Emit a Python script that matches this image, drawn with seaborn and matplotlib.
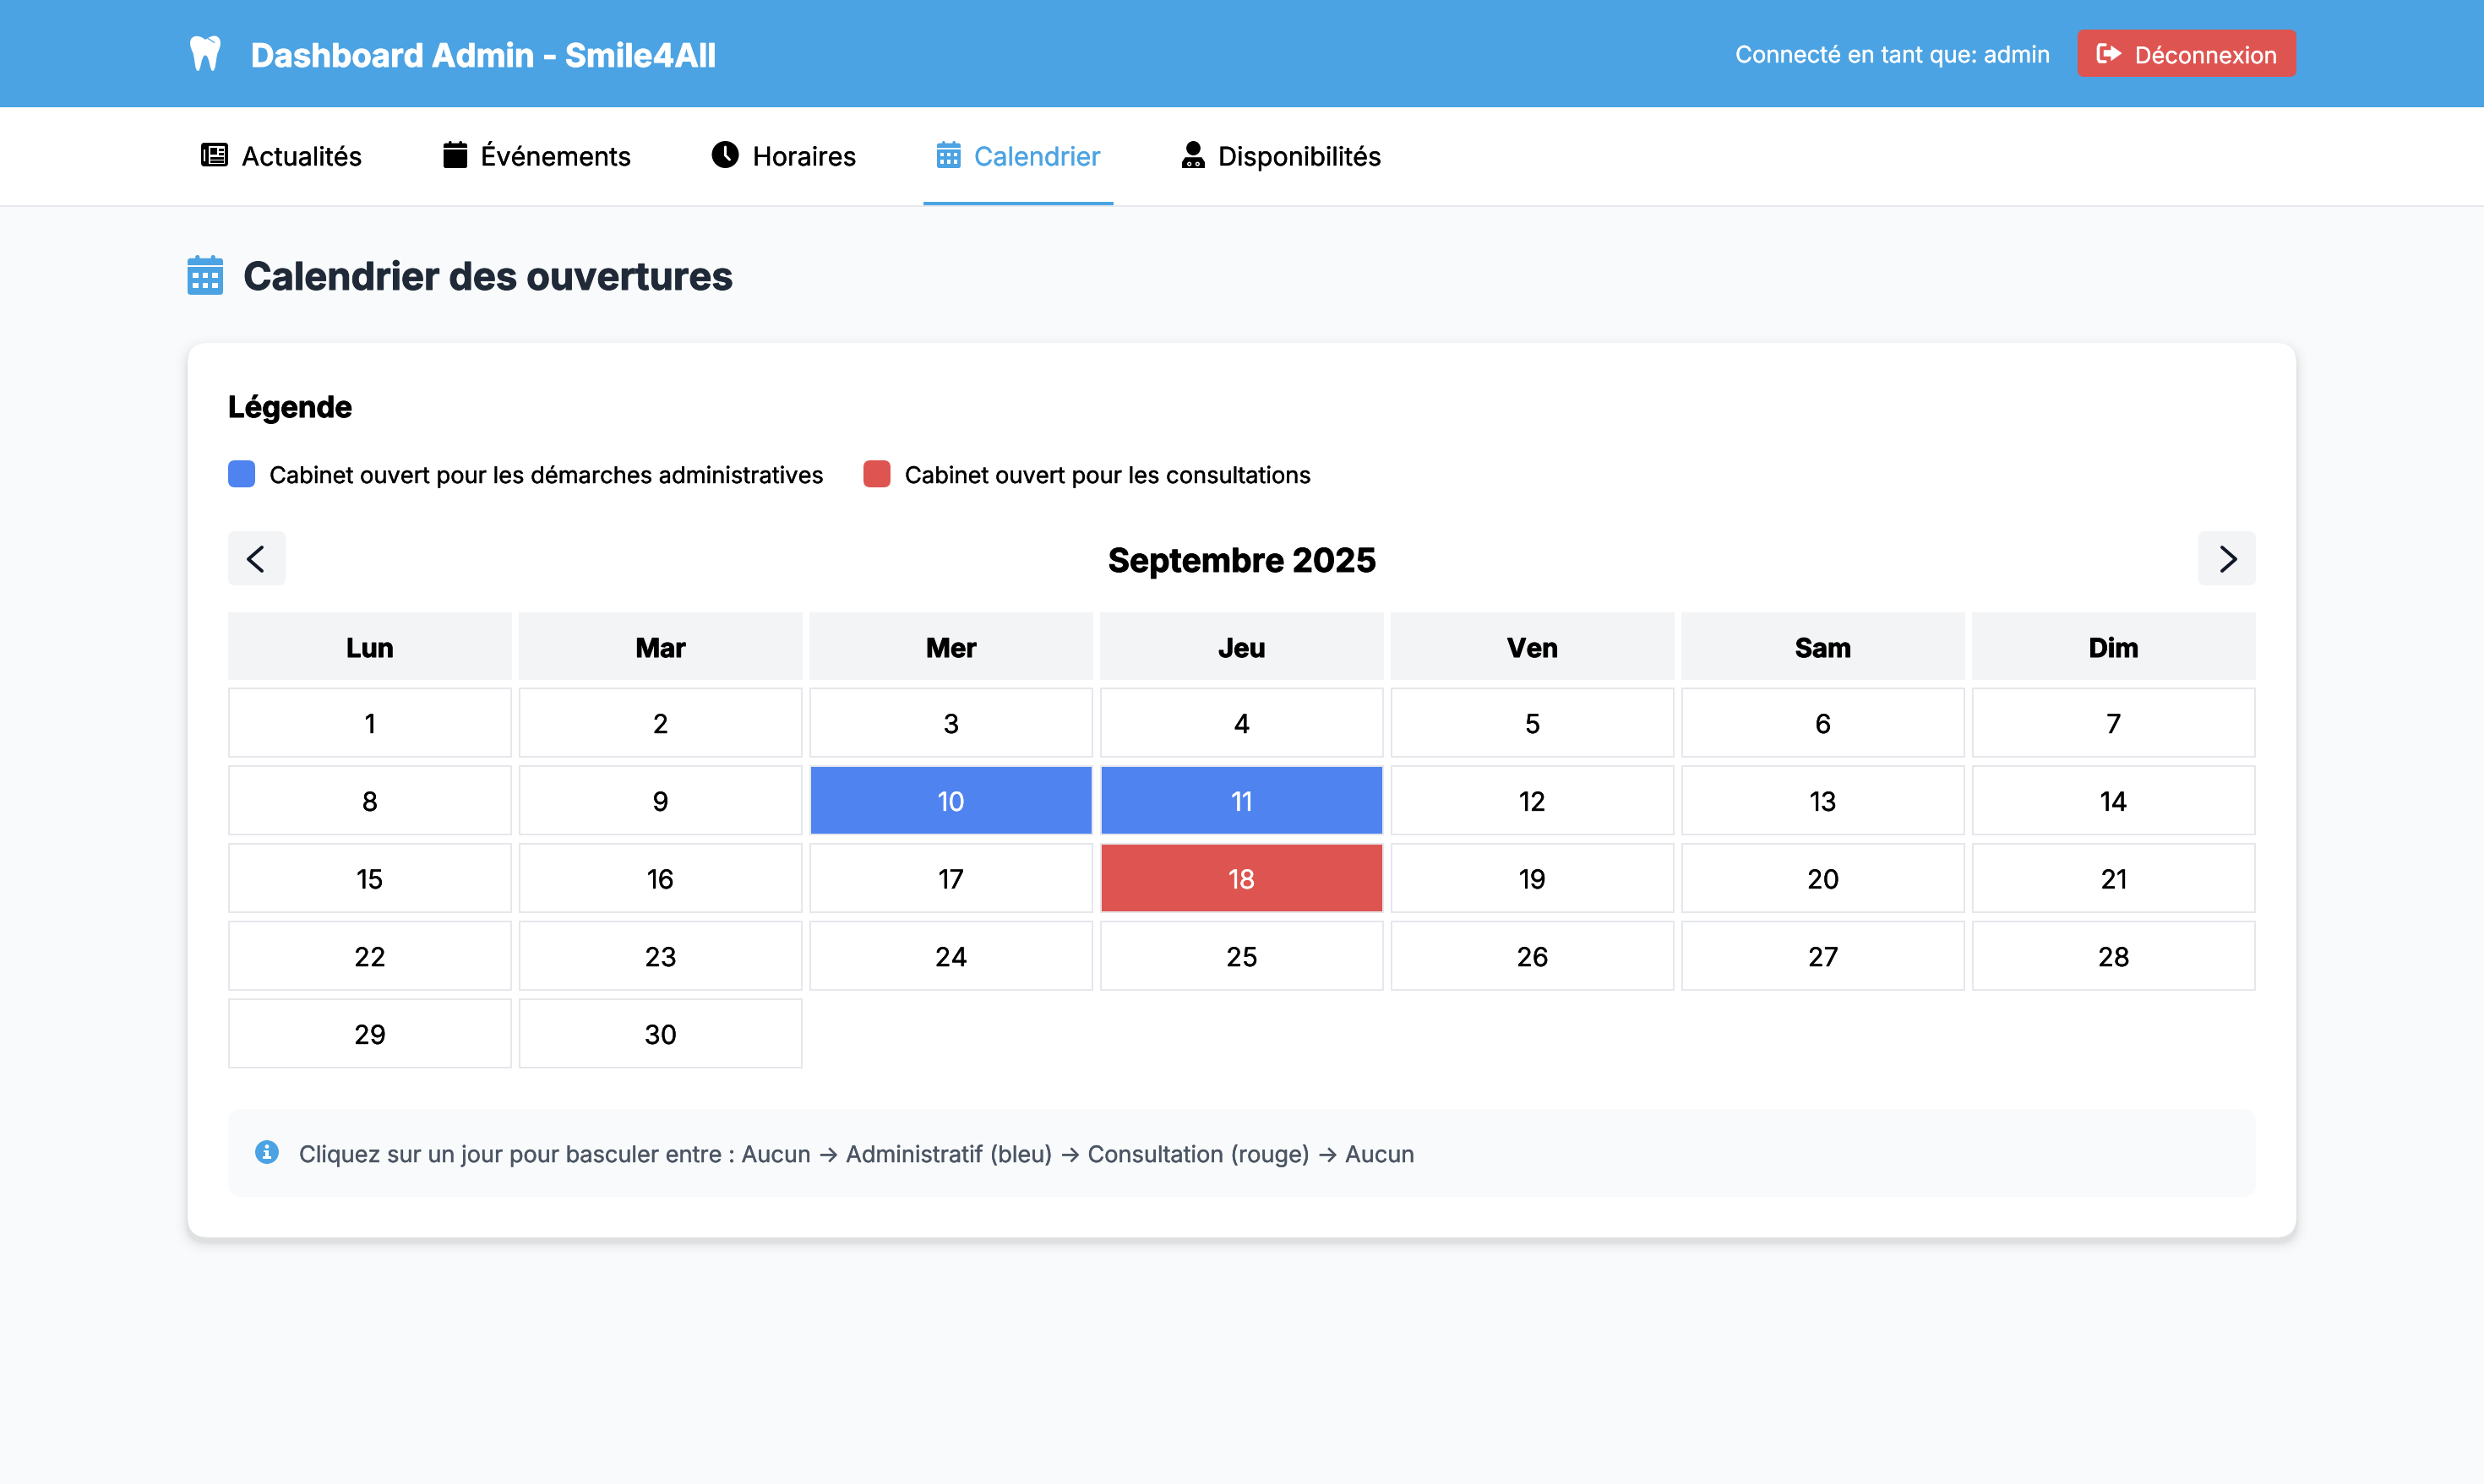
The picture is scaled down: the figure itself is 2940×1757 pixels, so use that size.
import numpy as np
import matplotlib
matplotlib.use("Agg")
import matplotlib.pyplot as plt
import matplotlib.patheffects as pe
from matplotlib.colors import ListedColormap
from matplotlib.patches import Circle, Ellipse, FancyBboxPatch, PathPatch, Polygon, Rectangle
from matplotlib.path import Path
import seaborn as sns

W, H = 2940, 1758

week_days = ["Lun", "Mar", "Mer", "Jeu", "Ven", "Sam", "Dim"]
day_rows = [
    ["1", "2", "3", "4", "5", "6", "7"],
    ["8", "9", "10", "11", "12", "13", "14"],
    ["15", "16", "17", "18", "19", "20", "21"],
    ["22", "23", "24", "25", "26", "27", "28"],
    ["29", "30", "", "", "", "", ""],
]
# 0 = closed, 1 = administrative, 2 = consultations
status_rows = [
    [0, 0, 0, 0, 0, 0, 0],
    [0, 0, 1, 1, 0, 0, 0],
    [0, 0, 0, 2, 0, 0, 0],
    [0, 0, 0, 0, 0, 0, 0],
    [0, 0, 0, 0, 0, 0, 0],
]
nav_labels = ["Actualités", "Événements", "Horaires", "Calendrier", "Disponibilités"]
legend_labels = [
    "Cabinet ouvert pour les démarches administratives",
    "Cabinet ouvert pour les consultations",
]

BLUE = "#4ba3e3"
ADMIN = "#4f83ef"
RED = "#de5450"
LINE = "#e5e7eb"
PAGE = "#f9fafb"
GREY = "#f3f4f6"
DARK = "#1f2937"

sns.set_theme(style="white")
plt.rcParams["font.family"] = ["Inter", "DejaVu Sans"]


def fs(px):
    return px * 72 / 100


def thicken(t, color, px):
    # the browser text in the reference is a little heavier than matplotlib's
    t.set_path_effects([pe.withStroke(linewidth=fs(px), foreground=color)])


def axes_px(fig, x0, y0, x1, y1):
    ax = fig.add_axes([x0 / W, 1 - y1 / H, (x1 - x0) / W, (y1 - y0) / H])
    ax.set_facecolor("none")
    return ax


def round_box(ax, x, y, w, h, r, color, **kw):
    ax.add_patch(
        FancyBboxPatch(
            (x + r, y + r), w - 2 * r, h - 2 * r,
            boxstyle=f"round,pad={r},rounding_size={r}",
            fc=color, ec="none", lw=0, **kw,
        )
    )


def label(ax, x, y, s, px, color="black", weight="normal", **kw):
    # matplotlib lands the baseline about a pixel high
    t = ax.text(x, y + 1, s, fontsize=fs(px), color=color, fontweight=weight,
                va="baseline", ha=kw.pop("ha", "left"), **kw)
    thicken(t, color, 1.0 if weight == "bold" else 0.35)
    return t


def tooth_icon(ax, x, y, w, h, color):
    pts = [
        (.5, .12), (.35, .0), (.1, -.03), (.02, .12),
        (-.04, .27), (.05, .4), (.1, .5),
        (.15, .65), (.15, 1), (.26, 1),
        (.36, 1), (.36, .56), (.5, .56),
        (.64, .56), (.64, 1), (.74, 1),
        (.85, 1), (.85, .65), (.9, .5),
        (.95, .4), (1.04, .27), (.98, .12),
        (.9, -.03), (.72, -.02), (.5, .12),
    ]
    codes = [Path.MOVETO] + [Path.CURVE4] * (len(pts) - 1)
    verts = [(x + px * w, y + py * h) for px, py in pts]
    ax.add_patch(PathPatch(Path(verts, codes), fc=color, ec="none", lw=0))
    ax.plot([x + .58 * w, x + .8 * w], [y + .08 * h, y + .2 * h], color=BLUE, lw=0.9)


def newspaper_icon(ax, x, y, w, h):
    round_box(ax, x, y, w, h, 4, "black")
    ax.add_patch(Rectangle((x + 9, y + 3.5), w - 13, h - 7, fc="white", ec="none"))
    ax.add_patch(Rectangle((x + 3.5, y + 8), 2, h - 14, fc="white", ec="none"))
    ax.add_patch(Rectangle((x + 11.5, y + 6), 8, 8, fc="black", ec="none"))
    ax.add_patch(Rectangle((x + 21, y + 6.5), 6, 3, fc="black", ec="none"))
    ax.add_patch(Rectangle((x + 21, y + 11.5), 6, 3, fc="black", ec="none"))
    ax.add_patch(Rectangle((x + 11.5, y + 16.5), 16, 3, fc="black", ec="none"))
    ax.add_patch(Rectangle((x + 11.5, y + 21), 16, 3, fc="black", ec="none"))


def calendar_icon(ax, x, y, w, h, color, dots=True):
    peg = w * 0.12
    for px in (x + w * 0.22, x + w * 0.66):
        round_box(ax, px, y, peg, h * 0.2, peg / 2.2, color)
    round_box(ax, x, y + h * 0.08, w, h * 0.92, h * 0.08, color)
    bar = h * 0.26
    ax.add_patch(Rectangle((x, y + bar), w, max(1.5, h * 0.04), fc=PAGE if dots else "white", ec="none"))
    if dots:
        for row in range(2):
            for col in range(3):
                ax.add_patch(Rectangle(
                    (x + w * (0.14 + col * 0.28), y + h * (0.44 + row * 0.26)),
                    w * 0.16, h * 0.13, fc="white", ec="none",
                ))


def clock_icon(ax, cx, cy, r):
    ax.add_patch(Circle((cx, cy), r, fc="black", ec="none"))
    ax.plot([cx, cx, cx + 5], [cy - 9, cy + 1, cy + 6], color="white", lw=fs(3),
            solid_capstyle="round", solid_joinstyle="round")


def doctor_icon(ax, x, y, w, h):
    ax.add_patch(Ellipse((x + w / 2, y + h * 0.265), w * 0.62, h * 0.53, fc="black", ec="none"))
    verts = [(x, y + h), (x, y + h * 0.78), (x + w * 0.14, y + h * 0.6), (x + w * 0.86, y + h * 0.6),
             (x + w, y + h * 0.78), (x + w, y + h)]
    ax.add_patch(Polygon(verts, closed=True, fc="black", ec="none"))
    for cx in (x + w * 0.32, x + w * 0.68):
        ax.add_patch(Circle((cx, y + h * 0.85), 2.6, fc="white", ec="none"))
        ax.add_patch(Circle((cx, y + h * 0.85), 1.1, fc="black", ec="none"))


def logout_icon(ax, x, y, w, h, color):
    ax.plot([x + w * 0.34, x + w * 0.1, x + w * 0.05, x + w * 0.05, x + w * 0.1, x + w * 0.34],
            [y + 2, y + 2, y + 5, y + h - 5, y + h - 2, y + h - 2],
            color=color, lw=fs(3.6), solid_capstyle="round", solid_joinstyle="round")
    arrow = [(x + w * 0.28, y + h * 0.36), (x + w * 0.58, y + h * 0.36), (x + w * 0.58, y + h * 0.14),
             (x + w, y + h * 0.5), (x + w * 0.58, y + h * 0.86), (x + w * 0.58, y + h * 0.64),
             (x + w * 0.28, y + h * 0.64)]
    ax.add_patch(Polygon(arrow, closed=True, fc=color, ec=color, lw=0.5, joinstyle="round"))


def info_icon(ax, cx, cy, r):
    ax.add_patch(Circle((cx, cy), r, fc=BLUE, ec="none"))
    ax.add_patch(Circle((cx, cy - 6.5), 2.4, fc="white", ec="none"))
    ax.add_patch(Rectangle((cx - 2, cy - 2), 4.2, 9, fc="white", ec="none"))
    ax.add_patch(Rectangle((cx - 4, cy - 2), 3, 2.4, fc="white", ec="none"))
    ax.add_patch(Rectangle((cx - 4.5, cy + 5), 9.5, 2.6, fc="white", ec="none"))


def chevron(ax, x0, x1, y0, y1):
    ax.plot([x1, x0, x1], [y0, (y0 + y1) / 2, y1], color="#111827", lw=fs(4),
            solid_capstyle="round", solid_joinstyle="round")


fig = plt.figure(figsize=(W / 100, H / 100), dpi=100, facecolor=PAGE)

# page chrome in pixel coordinates
ui = fig.add_axes([0, 0, 1, 1])
ui.set_xlim(0, W)
ui.set_ylim(H, 0)
ui.axis("off")

ui.add_patch(Rectangle((0, 0), W, 128, fc=BLUE, ec="none"))
ui.add_patch(Rectangle((0, 128), W, 116, fc="white", ec="none"))
ui.add_patch(Rectangle((0, 244), W, 2, fc=LINE, ec="none"))
ui.add_patch(Rectangle((1093, 240), 225, 4, fc=BLUE, ec="none"))

tooth_icon(ui, 225, 43, 36, 42, "white")
label(ui, 297, 79, "Dashboard Admin - Smile4All", 38.3, "white", "bold")
label(ui, 2054, 74, "Connecté en tant que: admin", 27.35, "white")
round_box(ui, 2459, 36, 259, 56, 8, RED)
logout_icon(ui, 2482, 52, 29, 24, "white")
label(ui, 2527, 75, "Déconnexion", 27.1, "white")

newspaper_icon(ui, 238, 170, 32, 28)
calendar_icon(ui, 525, 168, 28, 32, "black", dots=False)
clock_icon(ui, 858.5, 184, 16)
calendar_icon(ui, 1109, 168, 28, 32, BLUE)
doctor_icon(ui, 1399, 168, 27, 32)
nav_x = [286, 569, 891, 1153, 1442]
nav_colors = ["black", "black", "black", BLUE, "black"]
for nx, name, col in zip(nav_x, nav_labels, nav_colors):
    label(ui, nx, 196, name, 30.6, col)

calendar_icon(ui, 222, 303, 42, 47, BLUE)
label(ui, 288, 343, "Calendrier des ouvertures", 45.4, DARK, "bold")

# card with a soft shadow under it
for grow, alpha in [(14, 0.006), (10, 0.01), (7, 0.014), (4.5, 0.018), (2.5, 0.022), (1, 0.022)]:
    round_box(ui, 222 - grow, 407 - grow + 6, 2496 + 2 * grow, 1059 + 2 * grow, 24 + grow, "black", alpha=alpha)
round_box(ui, 222, 407, 2496, 1059, 24, "white")

label(ui, 270, 494, "Légende", 34.7, "black", "bold")
round_box(ui, 270, 546, 32, 32, 8, ADMIN)
label(ui, 319, 572, legend_labels[0], 27.25, "black")
round_box(ui, 1022, 546, 32, 32, 8, RED)
label(ui, 1071, 572, legend_labels[1], 27.25, "black")

round_box(ui, 270, 630, 68, 64, 8, GREY)
round_box(ui, 2602, 630, 68, 64, 8, GREY)
chevron(ui, 294, 310, 649, 677)
chevron(ui, 2646, 2630, 649, 677)
label(ui, 1470, 677, "Septembre 2025", 38.75, "black", "bold", ha="center")

round_box(ui, 270, 1314, 2400, 104, 16, PAGE)
info_icon(ui, 316, 1365, 14)
label(ui, 354, 1376, "Cliquez sur un jour pour basculer entre : Aucun → Administratif (bleu) → Consultation (rouge) → Aucun",
      27.15, "#4b5563")

# weekday header row
head_ax = axes_px(fig, 266, 722, 2674, 810)
sns.heatmap(
    np.zeros((1, 7)), ax=head_ax, cmap=ListedColormap([GREY]), cbar=False,
    annot=np.array([week_days]), fmt="", linewidths=fs(8), linecolor="white",
    xticklabels=False, yticklabels=False,
    annot_kws={"fontsize": fs(31), "fontweight": "bold", "color": "black"},
)
for t in head_ax.texts:
    t.set_color("black")
    t.set_y(t.get_position()[1] + 5 / 88)
    thicken(t, "black", 1.0)

# day grid
status = np.array(status_rows)
days = np.array(day_rows)
empty = days == ""
grid_ax = axes_px(fig, 266, 810, 2674, 1270)
sns.heatmap(
    status, ax=grid_ax, mask=empty, cmap=ListedColormap(["white", ADMIN, RED]), vmin=0, vmax=2,
    cbar=False, annot=days, fmt="", linewidths=fs(9), linecolor="white",
    xticklabels=False, yticklabels=False,
    annot_kws={"fontsize": fs(31)},
)
for t in grid_ax.texts:
    # seaborn picks white on the coloured cells, keep that and make the rest black
    col = "white" if t.get_color() in ("w", "white") else "black"
    t.set_color(col)
    t.set_y(t.get_position()[1] + 5 / 92)
    thicken(t, col, 0.35)

# each day cell has its own thin grey border
gap_x, gap_y = 5 / 344, 5.5 / 92
for r, c in zip(*np.where(~empty)):
    grid_ax.add_patch(Rectangle(
        (c + gap_x, r + gap_y), 1 - 2 * gap_x, 1 - 2 * gap_y,
        fc="none", ec=LINE, lw=fs(2),
    ))

fig.savefig("out.png", dpi=100, facecolor=PAGE)
